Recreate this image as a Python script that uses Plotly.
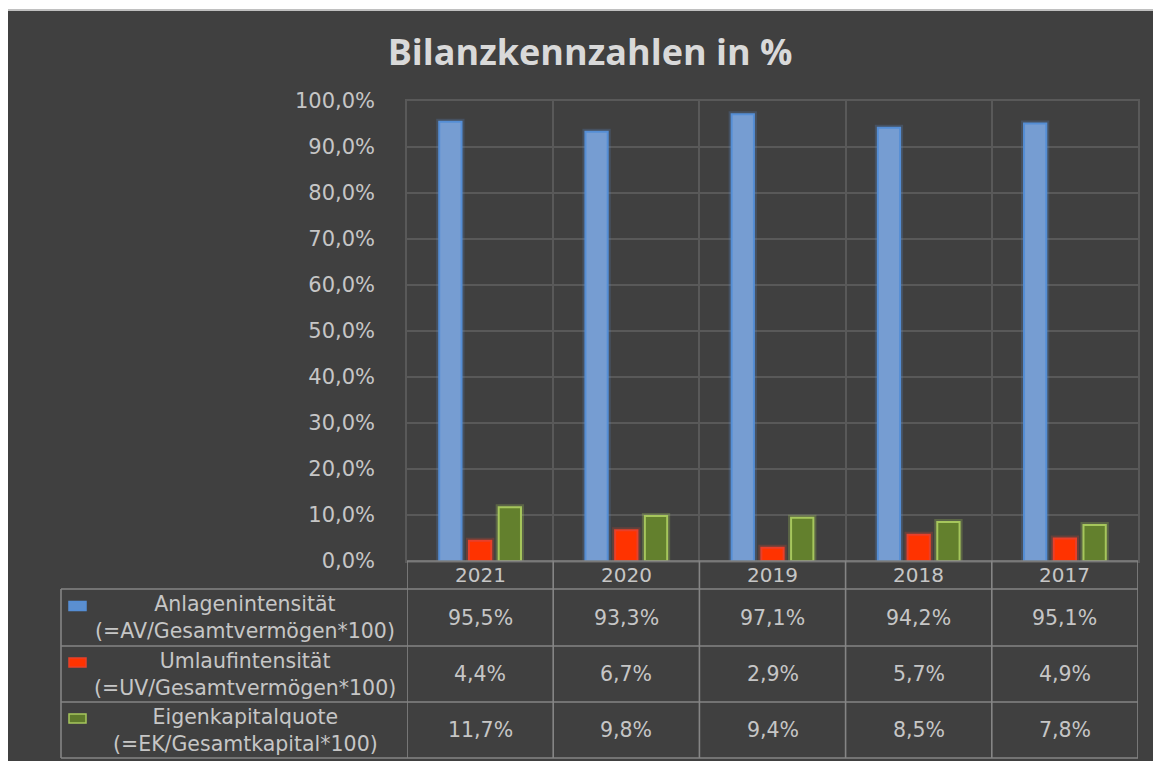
import plotly.graph_objects as go

years = ["2021", "2020", "2019", "2018", "2017"]
series_names = ["Anlagenintensität", "Umlaufintensität", "Eigenkapitalquote"]
series_formulas = ["(=AV/Gesamtvermögen*100)", "(=UV/Gesamtvermögen*100)", "(=EK/Gesamtkapital*100)"]
anlagen = [95.5, 93.3, 97.1, 94.2, 95.1]
umlauf = [4.4, 6.7, 2.9, 5.7, 4.9]
eigenkapital = [11.7, 9.8, 9.4, 8.5, 7.8]
y_ticks = [0, 10, 20, 30, 40, 50, 60, 70, 80, 90, 100]
title_text = "Bilanzkennzahlen in %"

series_values = [anlagen, umlauf, eigenkapital]
fill_colors = ["#769dd2", "#ff3300", "#63802d"]
line_colors = ["#558ed5", "#e8402a", "#a6c65c"]
glow_colors = ["rgba(90,140,210,0.22)", "rgba(255,70,40,0.20)", "rgba(180,220,90,0.24)"]
key_fills = ["#5b8fd0", "#ff3300", "#5f7a2c"]

OFF = 8  # page body margin
W, H = 1161 - OFF, 761 - OFF
# plot area in page pixel coordinates
L, R, T, B = 407, 1138, 101, 561
BG = "#404040"
GRID = "#595959"
TLINE = "#858585"
TXT = "#c6c6c6"
FONT = "DejaVu Sans"


def px(x):
    return (x - L) / (R - L)


def py(y):
    return (B - y) / (B - T)


def fmt(v):
    return f"{v:.1f}".replace(".", ",") + "%"


fig = go.Figure()
# soft glow behind bars (primary axes)
for name, vals, gc in zip(series_names, series_values, glow_colors):
    fig.add_trace(go.Bar(
        x=years, y=vals, name=name + " glow",
        marker=dict(color="rgba(0,0,0,0)", line=dict(color=gc, width=6)),
        showlegend=False, hoverinfo="skip", xaxis="x", yaxis="y",
    ))
# actual bars (overlay axes, drawn on top)
for name, vals, fc, lc in zip(series_names, series_values, fill_colors, line_colors):
    fig.add_trace(go.Bar(
        x=years, y=vals, name=name,
        marker=dict(color=fc, line=dict(color=lc, width=2)),
        showlegend=False, xaxis="x2", yaxis="y2",
    ))

shapes = []
shapes.append(dict(type="rect", xref="paper", yref="paper", layer="below",
                   x0=px(0), x1=px(1200), y0=py(0), y1=py(10),
                   fillcolor="white", line=dict(width=0)))
shapes.append(dict(type="line", xref="paper", yref="paper", layer="below",
                   x0=px(0), x1=px(1200), y0=py(10), y1=py(10),
                   line=dict(color="#c0c0c0", width=2)))

# table lines
tl = dict(color=TLINE, width=1.6)
row_edges = [561, 589, 646, 702, 758]
shapes.append(dict(type="line", xref="paper", yref="paper", x0=px(L), x1=px(R),
                   y0=py(561), y1=py(561), line=tl))
for ye in row_edges[1:]:
    shapes.append(dict(type="line", xref="paper", yref="paper", x0=px(61), x1=px(R),
                       y0=py(ye), y1=py(ye), line=tl))
for i in range(len(years) + 1):
    shapes.append(dict(type="line", xref="x", yref="paper", x0=i - 0.5, x1=i - 0.5,
                       y0=py(561), y1=py(758), line=tl))
shapes.append(dict(type="line", xref="paper", yref="paper", x0=px(61), x1=px(61),
                   y0=py(589), y1=py(758), line=tl))

annotations = []
for i, yr in enumerate(years):
    annotations.append(dict(x=i, xref="x", y=py(575), yref="paper", text=yr,
                            showarrow=False, xanchor="center", yanchor="middle",
                            font=dict(family=FONT, size=20, color=TXT)))

row_centers = [617.5, 674, 730]
for r, (name, form, vals) in enumerate(zip(series_names, series_formulas, series_values)):
    yc = row_centers[r]
    annotations.append(dict(x=px(245), xref="paper", y=py(yc), yref="paper",
                            text=f"{name}<br>{form}", showarrow=False,
                            xanchor="center", yanchor="middle", align="center",
                            font=dict(family=FONT, size=20.5, color=TXT)))
    for i, v in enumerate(vals):
        annotations.append(dict(x=i, xref="x", y=py(yc), yref="paper",
                                text=fmt(v), showarrow=False, xanchor="center",
                                yanchor="middle",
                                font=dict(family=FONT, size=20.5, color=TXT)))
    shapes.append(dict(type="rect", xref="paper", yref="paper",
                       x0=px(69), x1=px(86), y0=py(yc - 16), y1=py(yc - 7),
                       fillcolor=key_fills[r], line=dict(color=line_colors[r], width=1.5)))

fig.update_layout(
    width=W, height=H,
    margin=dict(l=L - OFF, r=W - (R - OFF), t=T - OFF, b=H - (B - OFF), pad=0),
    paper_bgcolor=BG, plot_bgcolor=BG,
    barmode="group", bargap=0.39, bargroupgap=0.25,
    title=dict(text=f"<b>{title_text}</b>", x=(590 - OFF) / W, y=1 - (52 - OFF) / H,
               xanchor="center", yanchor="middle", xref="container", yref="container",
               font=dict(family="Open Sans", size=36, color="#d9d9d9")),
    shapes=shapes, annotations=annotations,
    xaxis=dict(type="category", showticklabels=False, tickson="boundaries",
               showgrid=True, gridcolor=GRID, gridwidth=1.5, ticks="",
               showline=True, mirror=True, linecolor=GRID, linewidth=1.5,
               zeroline=False, range=[-0.5, 4.5]),
    yaxis=dict(range=[0, 100], tickmode="array", tickvals=y_ticks,
               ticktext=[fmt(v) for v in y_ticks],
               showgrid=True, gridcolor=GRID, gridwidth=1.5, zeroline=False,
               showline=True, mirror=True, linecolor=GRID, linewidth=1.5,
               ticklabelstandoff=26,
               tickfont=dict(family=FONT, size=21, color=TXT)),
    xaxis2=dict(type="category", overlaying="x", visible=False, range=[-0.5, 4.5],
                showgrid=False),
    yaxis2=dict(overlaying="y", visible=False, range=[0, 100], showgrid=False),
    showlegend=False,
)

fig.write_html("out.html")
